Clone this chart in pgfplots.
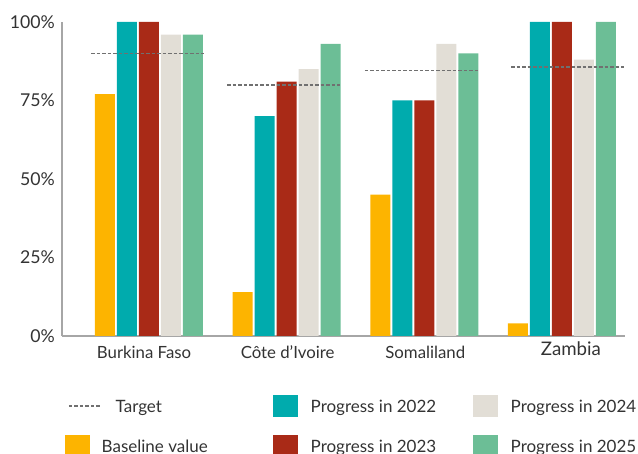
\documentclass[border=0pt]{standalone}
\usepackage{fontspec}
\setmainfont{Lato}
\usepackage{pgfplots}
\usepackage{pgfplotstable}
\pgfplotsset{compat=1.18}
\definecolor{cyel}{HTML}{FDB400}
\definecolor{cteal}{HTML}{00ABAD}
\definecolor{cred}{HTML}{A92A17}
\definecolor{cbeige}{HTML}{E2DED6}
\definecolor{cgreen}{HTML}{6CBE96}
\definecolor{ctext}{HTML}{333333}
\definecolor{caxis}{HTML}{A6A6A6}
\definecolor{ctarget}{HTML}{707070}
\pgfplotstableread{
x base p22 p23 p24 p25
0 77 100 100 96 96
1 14 70 81 85 93
2 45 75 75 93 90
3 4 100 100 88 100
}\data
\pgfplotsset{swatch/.style 2 args={legend image code/.code={\fill[#1, draw=none] (0bp,-5bp) rectangle (25bp,17bp); \path[draw=none, fill=none] (0bp,0bp) -- (#2,0bp);}}}
\begin{document}
\begin{tikzpicture}
\path[use as bounding box] (0,0) rectangle (638bp,454bp);
\begin{axis}[
 at={(62bp,118bp)}, anchor=south west, scale only axis, width=563bp, height=314bp,
 xmin=-0.632, xmax=3.458, ymin=0, ymax=100,
 axis x line*=bottom, axis y line*=left,
 axis line style={draw=caxis, line width=1.5bp, -},
 major tick length=0pt,
 ytick={0,25,50,75,100}, yticklabels={0\%,25\%,50\%,75\%,100\%},
 xtick={-0.036,1.007,2.007,3.065},
 xticklabels={Burkina Faso, Côte d’Ivoire, Somaliland, {\fontsize{18.7bp}{21bp}\selectfont\raisebox{3bp}{Zambia}}},
 yticklabel style={font=\fontsize{17.7bp}{20bp}\selectfont, text=ctext, anchor=east, inner sep=0pt, xshift=-7bp},
 xticklabel style={font=\fontsize{16.8bp}{19bp}\selectfont, text=ctext, anchor=base, inner sep=0pt, yshift=-22bp},
 legend columns=3,
 legend style={at={(0.0053,-0.188)}, anchor=north west, draw=none, fill=none, inner sep=0pt, outer sep=0pt, column sep=0pt, row sep=18bp, font=\fontsize{17bp}{20bp}\selectfont, text=ctext, cells={anchor=base west, inner sep=0pt}, nodes={inner sep=0pt}},
]
\addplot[ybar, bar width=20bp, bar shift=-44bp, fill=cyel, draw=none, forget plot] table[x=x,y=base]{\data};
\addplot[ybar, bar width=20bp, bar shift=-22bp, fill=cteal, draw=none, forget plot] table[x=x,y=p22]{\data};
\addplot[ybar, bar width=20bp, bar shift=0bp, fill=cred, draw=none, forget plot] table[x=x,y=p23]{\data};
\addplot[ybar, bar width=20bp, bar shift=22bp, fill=cbeige, draw=none, forget plot] table[x=x,y=p24]{\data};
\addplot[ybar, bar width=20bp, bar shift=44bp, fill=cgreen, draw=none, forget plot] table[x=x,y=p25]{\data};
\addplot[ctarget, line width=1.7bp, dash pattern=on 3.5bp off 2bp, unbounded coords=jump, forget plot] coordinates {(-0.421,90) (0.400,90) (0.48,nan) (0.567,80) (1.387,80) (1.48,nan) (1.569,84.6) (2.390,84.6) (2.5,nan) (2.630,85.6) (3.450,85.6)};
\addlegendimage{legend image code/.code={\draw[ctarget, line width=1.5bp, dash pattern=on 3.5bp off 2bp] (4bp,6bp)--(36bp,6bp); \path[draw=none, fill=none] (0bp,0bp) -- (35bp,0bp);}}
\addlegendentry{\makebox[171bp][l]{\hspace*{14bp}Target}}
\addlegendimage{swatch={cteal}{38bp}}
\addlegendentry{\makebox[162bp][l]{Progress in 2022}}
\addlegendimage{swatch={cbeige}{38bp}}
\addlegendentry{Progress in 2024}
\addlegendimage{swatch={cyel}{35bp}}
\addlegendentry{Baseline value}
\addlegendimage{swatch={cred}{38bp}}
\addlegendentry{Progress in 2023}
\addlegendimage{swatch={cgreen}{38bp}}
\addlegendentry{Progress in 2025}
\end{axis}
\end{tikzpicture}
\end{document}
